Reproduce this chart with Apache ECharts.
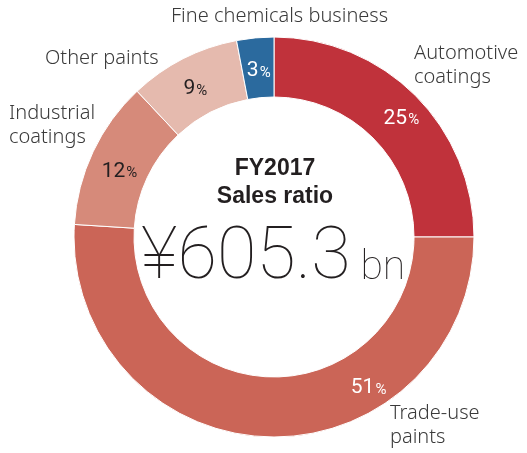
<!DOCTYPE html>
<html>
<head>
<meta charset="utf-8">
<script src="https://cdn.jsdelivr.net/npm/echarts@6/dist/echarts.min.js"></script>
<style>
  html, body { margin: 0; padding: 0; background: #fff; }
  #chart { width: 527px; height: 453px; }
</style>
</head>
<body>
<div id="chart"></div>
<script>
// segment names and sales ratio (%)
var segments = ['Automotive coatings', 'Trade-use paints', 'Industrial coatings', 'Other paints', 'Fine chemicals business']
var ratios = [25, 51, 12, 9, 3]
var colors = ['#C0323B', '#CB6557', '#D68A7A', '#E5BAAE', '#2B6A9E']
var labelColors = ['#fff', '#fff', '#231F20', '#231F20', '#fff']

var titleLines = ['FY2017', 'Sales ratio']
var totalValue = '¥605.3'
var totalUnit = 'bn'

var myChart = echarts.init(document.getElementById('chart'), null, { renderer: 'canvas' })

var nameFont = { fontFamily: 'Noto Sans', fontWeight: 300, fontSize: 20, fill: '#3a3a3a', lineHeight: 24 }

// nudges for the percent labels, per slice
var labelShift = [[5, 4], [100, -22], [2, 8], [0, 6], [1, 6]]

var option = {
  animation: false,
  series: [
    {
      type: 'pie',
      center: [274, 237],
      radius: [140, 200],
      startAngle: 90,
      clockwise: true,
      avoidLabelOverlap: false,
      itemStyle: { borderColor: '#fff', borderWidth: 1 },
      label: {
        show: true,
        position: 'inside',
        textBorderWidth: 0,
        fontWeight: 'normal',
        formatter: function (p) {
          return '{v|' + p.value + '}{p|%}'
        }
      },
      labelLayout: function (params) {
        var s = labelShift[params.dataIndex]
        return { dx: s[0], dy: s[1] }
      },
      data: segments.map(function (name, i) {
        var c = labelColors[i]
        return {
          name: name,
          value: ratios[i],
          itemStyle: { color: colors[i] },
          label: {
            color: c,
            textBorderWidth: 0,
            rich: {
              v: { color: c, fontFamily: 'Roboto', fontWeight: 400, fontSize: 21, textBorderWidth: 0 },
              p: { color: c, fontFamily: 'Roboto', fontWeight: 400, fontSize: 15, textBorderWidth: 0, padding: [4, 0, 0, 1] }
            }
          }
        }
      })
    }
  ],
  graphic: [
    { type: 'text', left: 171, top: 4, style: Object.assign({ text: 'Fine chemicals business' }, nameFont) },
    { type: 'text', left: 45, top: 46, style: Object.assign({ text: 'Other paints' }, nameFont) },
    { type: 'text', left: 414, top: 41, style: Object.assign({ text: 'Automotive\ncoatings' }, nameFont) },
    { type: 'text', left: 9, top: 101, style: Object.assign({ text: 'Industrial\ncoatings' }, nameFont) },
    { type: 'text', left: 390, top: 401, style: Object.assign({ text: 'Trade-use\npaints' }, nameFont) },
    {
      type: 'text',
      x: 275,
      y: 155,
      style: {
        text: titleLines.join('\n'),
        fontFamily: 'Liberation Sans',
        fontWeight: 'bold',
        fontSize: 23,
        lineHeight: 28,
        fill: '#231F20',
        align: 'center',
        verticalAlign: 'top'
      }
    },
    {
      type: 'text',
      left: 141,
      top: 224,
      style: {
        text: '{a|' + totalValue + '}{b| ' + totalUnit + '}',
        rich: {
          a: { fontFamily: 'Roboto', fontWeight: 100, fontSize: 72, fill: '#231F20', color: '#231F20' },
          b: { fontFamily: 'Roboto', fontWeight: 100, fontSize: 41, fill: '#231F20', color: '#231F20', padding: [18, 0, 0, 0] }
        }
      }
    }
  ]
}

myChart.setOption(option)
</script>
</body>
</html>
